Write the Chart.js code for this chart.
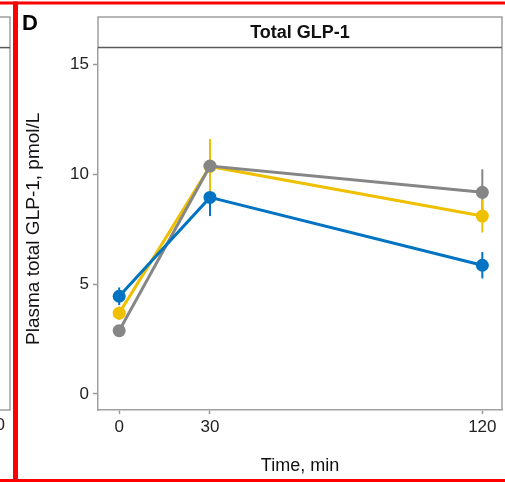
<!DOCTYPE html>
<html>
<head>
<meta charset="utf-8">
<script src="https://cdn.jsdelivr.net/npm/chart.js@4.4.1/dist/chart.umd.min.js"></script>
<style>
  html, body { margin: 0; padding: 0; background: #fff; }
  #c { display: block; }
</style>
</head>
<body>
<canvas id="c" width="505" height="482"></canvas>
<script>
// ---- data ----
const timePoints = [0, 30, 120];
const xTickValues = [0, 30, 120];
const yTickValues = [0, 5, 10, 15];

const blueMean = [4.45, 8.95, 5.86];
const blueSem  = [0.4, 0.85, 0.6];
const grayMean = [2.88, 10.38, 9.18];
const graySem  = [0.15, 1.0, 1.05];
const yellowMean = [3.68, 10.36, 8.1];
const yellowSem  = [0.3, 1.25, 0.75];

const panelTitle = 'Total GLP-1';
const yTitle = 'Plasma total GLP-1, pmol/L';
const xTitle = 'Time, min';
const panelTag = 'D';

const FONT = "'Liberation Sans', Arial, Helvetica, sans-serif";
const BLUE = '#0073C2', YELLOW = '#EFC000', GRAY = '#868686';

function pts(means) { return timePoints.map((t, i) => ({ x: t, y: means[i] })); }

function ds(label, means, sem, color) {
  return {
    label, data: pts(means), sem,
    borderColor: color, backgroundColor: color,
    borderWidth: 3, pointRadius: 6.5, pointHoverRadius: 6.5,
    pointBorderWidth: 0, tension: 0
  };
}

const errorBars = {
  id: 'errorBars',
  beforeDatasetsDraw(chart) {
    const { ctx, scales: { x, y } } = chart;
    ctx.save();
    chart.data.datasets.forEach(d => {
      ctx.strokeStyle = d.borderColor;
      ctx.lineWidth = 2;
      d.data.forEach((p, i) => {
        const px = x.getPixelForValue(p.x);
        ctx.beginPath();
        ctx.moveTo(px, y.getPixelForValue(p.y - d.sem[i]));
        ctx.lineTo(px, y.getPixelForValue(p.y + d.sem[i]));
        ctx.stroke();
      });
    });
    ctx.restore();
  }
};

const decor = {
  id: 'decor',
  beforeDraw(chart) {
    const { ctx } = chart;
    ctx.save();
    ctx.fillStyle = '#fff';
    ctx.fillRect(0, 0, chart.width, chart.height);
    ctx.restore();
  },
  afterDraw(chart) {
    const { ctx, chartArea: a } = chart;
    ctx.save();
    // panel border right
    ctx.strokeStyle = '#a0a0a0';
    ctx.lineWidth = 1.5;
    ctx.beginPath();
    ctx.moveTo(a.right, a.top); ctx.lineTo(a.right, a.bottom);
    ctx.stroke();
    // strip box
    const stripTop = 17;
    ctx.beginPath();
    ctx.moveTo(a.left, a.top); ctx.lineTo(a.left, stripTop);
    ctx.lineTo(a.right, stripTop); ctx.lineTo(a.right, a.top);
    ctx.stroke();
    ctx.strokeStyle = '#5a5a5a';
    ctx.beginPath();
    ctx.moveTo(a.left, a.top); ctx.lineTo(a.right, a.top);
    ctx.stroke();
    // neighbouring panel edge on the left
    ctx.strokeStyle = '#a0a0a0';
    ctx.beginPath();
    ctx.moveTo(0, stripTop); ctx.lineTo(10, stripTop); ctx.lineTo(10, a.bottom); ctx.lineTo(0, a.bottom);
    ctx.stroke();
    ctx.strokeStyle = '#5a5a5a';
    ctx.beginPath();
    ctx.moveTo(0, a.top); ctx.lineTo(10, a.top);
    ctx.stroke();
    ctx.fillStyle = '#222';
    ctx.font = '17px ' + FONT;
    ctx.textAlign = 'right';
    ctx.textBaseline = 'middle';
    ctx.fillText('0', 5, 425);
    // panel tag
    ctx.fillStyle = '#000';
    ctx.font = 'bold 22px ' + FONT;
    ctx.textAlign = 'left';
    ctx.textBaseline = 'alphabetic';
    ctx.fillText(panelTag, 22, 30);
    // red frame
    ctx.fillStyle = '#ff0000';
    ctx.fillRect(0, 1.5, chart.width, 3);
    ctx.fillRect(13, 1.5, 5, chart.height);
    ctx.fillRect(0, 479, chart.width, 3);
    ctx.restore();
  }
};

new Chart(document.getElementById('c'), {
  type: 'line',
  data: {
    datasets: [
      ds('Blue', blueMean, blueSem, BLUE),
      ds('Gray', grayMean, graySem, GRAY),
      ds('Yellow', yellowMean, yellowSem, YELLOW)
    ]
  },
  options: {
    responsive: false,
    animation: false,
    devicePixelRatio: 1,
    layout: { autoPadding: false, padding: { left: 18, right: 3, top: 0, bottom: 1 } },
    plugins: {
      legend: { display: false },
      tooltip: { enabled: false },
      title: {
        display: true, text: panelTitle, fullSize: false,
        color: '#111', font: { family: FONT, size: 18, weight: 'bold' },
        padding: { top: 22, bottom: 4 }
      }
    },
    scales: {
      x: {
        type: 'linear', min: -7, max: 126.5,
        afterBuildTicks(s) { s.ticks = xTickValues.map(v => ({ value: v })); },
        afterFit(s) { s.height = 71; s.paddingLeft = 0; s.paddingRight = 0; },
        grid: { drawOnChartArea: false, drawTicks: true, tickLength: 4, tickColor: '#999', tickWidth: 1.5 },
        border: { display: true, color: '#a0a0a0', width: 1.5 },
        ticks: { color: '#222', font: { family: FONT, size: 17 }, padding: 3, maxRotation: 0 },
        title: { display: true, text: xTitle, color: '#111', font: { family: FONT, size: 18 }, padding: { top: 4, bottom: 4 } }
      },
      y: {
        type: 'linear', min: -0.73, max: 15.77,
        afterBuildTicks(s) { s.ticks = yTickValues.map(v => ({ value: v })); },
        afterFit(s) { s.width = 80; s.paddingTop = 0; s.paddingBottom = 0; },
        grid: { drawOnChartArea: false, drawTicks: true, tickLength: 5, tickColor: '#999', tickWidth: 1.5 },
        border: { display: true, color: '#a0a0a0', width: 1.5 },
        ticks: { color: '#222', font: { family: FONT, size: 17 }, padding: 4 },
        title: { display: true, text: yTitle, color: '#111', font: { family: FONT, size: 19 }, padding: { top: 4, bottom: 4 } }
      }
    }
  },
  plugins: [decor, errorBars]
});
</script>
</body>
</html>
